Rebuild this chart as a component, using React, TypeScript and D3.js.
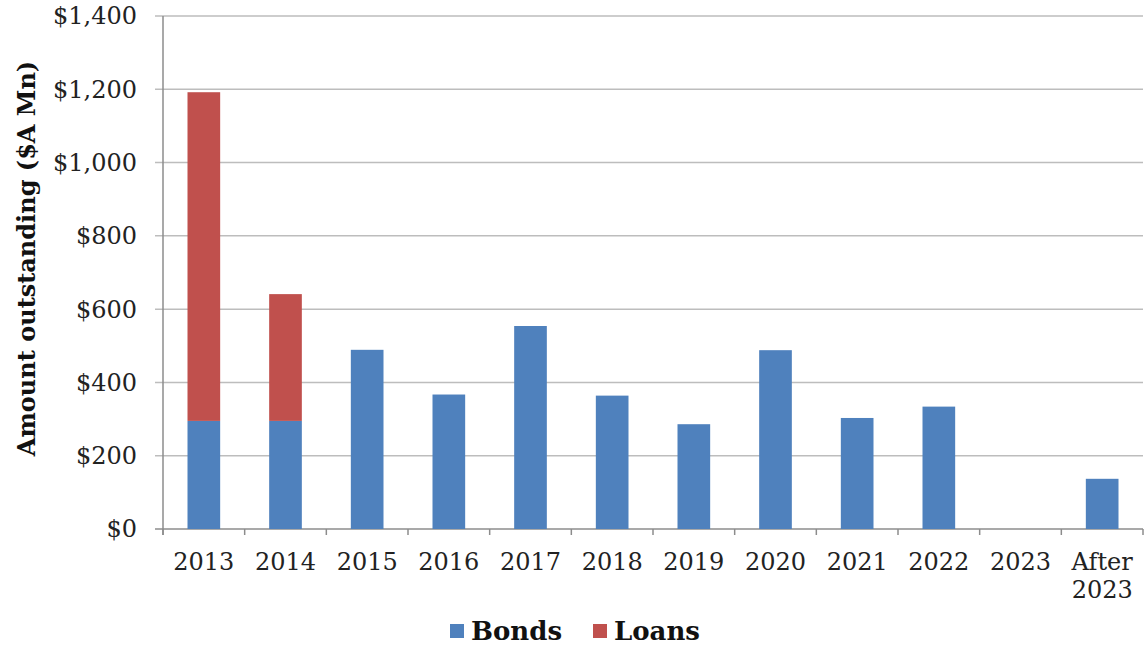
import React from 'react';
import * as d3 from 'd3';

// maturity profile, $A Mn
const categories = ['2013', '2014', '2015', '2016', '2017', '2018', '2019', '2020', '2021', '2022', '2023', 'After 2023'];
const bonds = [295, 295, 489, 367, 554, 364, 286, 488, 303, 334, 0, 137];
const loans = [897, 346, 0, 0, 0, 0, 0, 0, 0, 0, 0, 0];
const yTicks = [0, 200, 400, 600, 800, 1000, 1200, 1400];
const seriesNames = ['Bonds', 'Loans'];
const seriesColors = ['#4f81bd', '#c0504d'];

const W = 1145;
const H = 647;
const M = { top: 16, right: 2, bottom: 118, left: 163 };
const FONT = '"DejaVu Serif", Georgia, serif';

export default function App() {
  const innerW = W - M.left - M.right;
  const innerH = H - M.top - M.bottom;

  const x = d3.scaleBand<string>().domain(categories).range([0, innerW]).paddingInner(0.6).paddingOuter(0.3);
  const y = d3.scaleLinear().domain([0, 1400]).range([innerH, 0]);

  const rows = categories.map((c, i) => ({ cat: c, Bonds: bonds[i], Loans: loans[i] }));
  const stacked = d3.stack<any>().keys(seriesNames)(rows);

  const step = x.step();
  const boundaries = d3.range(categories.length + 1).map((i) => i * step);

  return (
    <svg width={W} height={H} style={{ position: 'absolute', left: 0, top: 0, background: '#fff' }} fontFamily={FONT}>
      <g transform={`translate(${M.left},${M.top})`}>
        {/* gridlines + y labels */}
        {yTicks.map((t) => (
          <g key={t} transform={`translate(0,${y(t)})`}>
            <line x1={-8} x2={innerW} stroke={t === 0 ? '#8c8c8c' : '#bdbdbd'} strokeWidth={1.5} />
            <text x={-26} dy="0.35em" textAnchor="end" fontSize={24} fill="#222">
              {'$' + d3.format(',')(t)}
            </text>
          </g>
        ))}
        {/* y axis line */}
        <line x1={0} x2={0} y1={0} y2={innerH + 6} stroke="#8c8c8c" strokeWidth={1.5} />

        {/* bars */}
        {stacked.map((s, si) => (
          <g key={s.key} fill={seriesColors[si]}>
            {s.map((d, i) =>
              d[1] - d[0] > 0 ? (
                <rect
                  key={i}
                  x={x(categories[i])}
                  y={y(d[1])}
                  width={x.bandwidth()}
                  height={y(d[0]) - y(d[1])}
                />
              ) : null
            )}
          </g>
        ))}

        {/* x ticks */}
        {boundaries.map((b, i) => (
          <line key={i} x1={b} x2={b} y1={innerH} y2={innerH + 6} stroke="#8c8c8c" strokeWidth={1.5} />
        ))}
        {categories.map((c) => {
          const cx = (x(c) as number) + x.bandwidth() / 2;
          const parts = c === 'After 2023' ? ['After', '2023'] : [c];
          return (
            <text key={c} x={cx} y={innerH + 41} textAnchor="middle" fontSize={24} fill="#222">
              {parts.map((p, j) => (
                <tspan key={j} x={cx} dy={j === 0 ? 0 : 28}>
                  {p}
                </tspan>
              ))}
            </text>
          );
        })}
      </g>

      {/* y axis title */}
      <text
        transform={`translate(35,${M.top + innerH / 2 - 14}) rotate(-90)`}
        textAnchor="middle"
        fontSize={24}
        fontWeight="bold"
        fill="#111"
      >
        Amount outstanding ($A Mn)
      </text>

      {/* legend */}
      <g transform="translate(450,631)">
        {seriesNames.map((n, i) => (
          <g key={n} transform={`translate(${i * 143},0)`}>
            <rect x={0} y={-7} width={14} height={14} fill={seriesColors[i]} />
            <text x={21} y={0} dy="0.35em" fontSize={26} fontWeight="bold" fill="#111">
              {n}
            </text>
          </g>
        ))}
      </g>
    </svg>
  );
}
